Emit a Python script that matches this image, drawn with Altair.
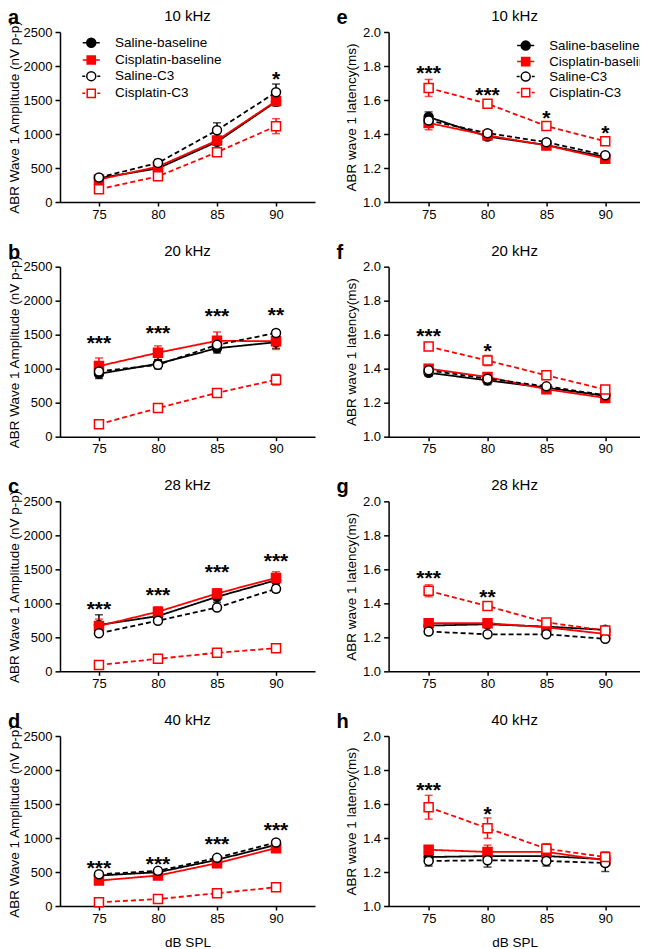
import altair as alt
import pandas as pd

FONT = "Liberation Sans, Arial, Helvetica, sans-serif"
RED = "#FF0000"

DB = [75, 80, 85, 90]
SERIES = ["Saline-baseline", "Cisplatin-baseline", "Saline-C3", "Cisplatin-C3"]

# ---- Amplitude (nV p-p): rows = series, cols = 75/80/85/90 dB SPL ----
amp10_mean = [[350, 495, 885, 1475], [330, 520, 905, 1485], [360, 575, 1055, 1615], [188, 377, 733, 1115]]
amp10_err = [[30, 70, 40, 60], [40, 50, 60, 60], [30, 50, 110, 120], [30, 40, 50, 110]]
amp10_stars = [(90, 1870, "*")]

amp20_mean = [[925, 1072, 1301, 1389], [1038, 1235, 1410, 1403], [960, 1057, 1350, 1525], [183, 420, 643, 838]]
amp20_err = [[70, 60, 70, 90], [120, 100, 130, 120], [50, 60, 60, 40], [20, 60, 30, 80]]
amp20_stars = [(75, 1437, "***"), (80, 1593, "***"), (85, 1837, "***"), (90, 1851, "**")]

amp28_mean = [[682, 813, 1096, 1340], [668, 877, 1145, 1374], [560, 745, 940, 1213], [93, 185, 273, 341]]
amp28_err = [[150, 50, 80, 80], [100, 70, 70, 90], [40, 40, 40, 50], [20, 20, 20, 30]]
amp28_stars = [(75, 989, "***"), (80, 1194, "***"), (85, 1520, "***"), (90, 1691, "***")]

amp40_mean = [[448, 497, 679, 900], [374, 448, 630, 851], [467, 517, 708, 935], [54, 103, 187, 276]]
amp40_err = [[30, 30, 40, 50], [30, 30, 40, 50], [20, 20, 30, 40], [15, 20, 20, 30]]
amp40_stars = [(75, 630, "***"), (80, 689, "***"), (85, 984, "***"), (90, 1186, "***")]

# ---- Latency (ms) ----
lat10_mean = [[1.50, 1.385, 1.335, 1.265], [1.465, 1.392, 1.333, 1.255], [1.48, 1.405, 1.352, 1.275], [1.671, 1.578, 1.447, 1.357]]
lat10_err = [[0.03, 0.02, 0.015, 0.012], [0.04, 0.02, 0.015, 0.012], [0.02, 0.015, 0.01, 0.01], [0.05, 0.012, 0.012, 0.012]]
lat10_stars = [(75, 1.788, "***"), (80, 1.657, "***"), (85, 1.52, "*"), (90, 1.43, "*")]

lat20_mean = [[1.376, 1.331, 1.288, 1.240], [1.400, 1.351, 1.279, 1.228], [1.39, 1.341, 1.296, 1.244], [1.530, 1.448, 1.361, 1.277]]
lat20_err = [[0.02, 0.025, 0.015, 0.01], [0.015, 0.015, 0.015, 0.01], [0.015, 0.015, 0.01, 0.01], [0.015, 0.03, 0.012, 0.012]]
lat20_stars = [(75, 1.62, "***"), (80, 1.532, "*")]

lat28_mean = [[1.269, 1.277, 1.263, 1.244], [1.283, 1.283, 1.259, 1.220], [1.234, 1.218, 1.218, 1.191], [1.474, 1.384, 1.288, 1.240]]
lat28_err = [[0.01, 0.01, 0.01, 0.01], [0.012, 0.012, 0.01, 0.01], [0.01, 0.01, 0.01, 0.01], [0.035, 0.015, 0.012, 0.01]]
lat28_stars = [(75, 1.575, "***"), (80, 1.464, "**")]

lat40_mean = [[1.288, 1.294, 1.294, 1.275], [1.331, 1.318, 1.318, 1.269], [1.265, 1.269, 1.265, 1.253], [1.581, 1.458, 1.337, 1.288]]
lat40_err = [[0.02, 0.03, 0.02, 0.04], [0.02, 0.04, 0.04, 0.03], [0.03, 0.04, 0.03, 0.05], [0.07, 0.06, 0.03, 0.03]]
lat40_stars = [(75, 1.708, "***"), (80, 1.567, "*")]

# legend symbol paths (unit box): line stubs + marker
P_CIRC = "M1,0A1,1,0,1,1,-1,0A1,1,0,1,1,1,0Z"
P_SQ = "M-0.9,-0.9L0.9,-0.9L0.9,0.9L-0.9,0.9Z"
SOLID = "M-1.9,0L-1,0M1,0L1.9,0"
DASH = "M-2,0L-1.35,0M1.35,0L2,0"
LEGEND_SHAPES = [SOLID + P_CIRC, SOLID + P_SQ, DASH + P_CIRC, DASH + P_SQ]

col_scale = alt.Scale(domain=SERIES, range=["black", RED, "black", RED])
fill_scale = alt.Scale(domain=SERIES, range=["black", RED, "white", "white"])
shape_scale = alt.Scale(domain=SERIES, range=["circle", "square", "circle", "square"])
lshape_scale = alt.Scale(domain=SERIES, range=LEGEND_SHAPES)
dash_scale = alt.Scale(domain=SERIES, range=[[1, 0], [1, 0], [5, 3], [5, 3]])


def make_panel(letter, freq, kind, means, errs, stars, legend_pos=None, bottom=False):
    rows = []
    for s, m, e in zip(SERIES, means, errs):
        for d, v, ee in zip(DB, m, e):
            rows.append({"series": s, "db": d, "value": v, "lo": v - ee, "hi": v + ee})
    df = pd.DataFrame(rows)
    sdf = pd.DataFrame({"db": [s[0] for s in stars], "y": [s[1] for s in stars],
                        "label": [s[2] for s in stars]})
    if kind == "amp":
        ydom, yvals, ytitle, fmt = [0, 2500], [0, 500, 1000, 1500, 2000, 2500], "ABR Wave 1 Amplitude (nV p-p)", "d"
        xdom, width, tpad = [71.7, 93.3], 255, 2
    else:
        ydom, yvals, ytitle, fmt = [1.0, 2.0], [1.0, 1.2, 1.4, 1.6, 1.8, 2.0], "ABR wave 1 latency(ms)", ".1f"
        xdom, width, tpad = [71.6, 93.0], 252, 4
    xscale = alt.Scale(domain=xdom, nice=False, zero=False)
    yscale = alt.Scale(domain=ydom, nice=False, zero=False)
    xaxis = alt.Axis(values=DB, format="d", title="dB SPL" if bottom else None)
    yaxis = alt.Axis(values=yvals, format=fmt, title=ytitle, titlePadding=tpad)
    xenc = alt.X("db:Q", scale=xscale, axis=xaxis)

    def Y(field):
        return alt.Y(field, type="quantitative", scale=yscale, axis=yaxis)

    color = alt.Color("series:N", scale=col_scale, legend=None)

    base = alt.Chart(df)
    lines = base.mark_line(strokeWidth=1.8).encode(
        x=xenc, y=Y("value"), color=color,
        strokeDash=alt.StrokeDash("series:N", scale=dash_scale, legend=None))
    rules = base.mark_rule(strokeWidth=1.5).encode(
        x=xenc, y=Y("lo"), y2="hi:Q", color=color)
    tlo = base.mark_tick(orient="horizontal", size=8, thickness=1.5).encode(
        x=xenc, y=Y("lo"), color=color)
    thi = base.mark_tick(orient="horizontal", size=8, thickness=1.5).encode(
        x=xenc, y=Y("hi"), color=color)

    points = base.mark_point(filled=True, size=81, strokeWidth=1.5, opacity=1).encode(
        x=xenc, y=Y("value"),
        shape=alt.Shape("series:N", scale=shape_scale, legend=None),
        fill=alt.Fill("series:N", scale=fill_scale, legend=None),
        stroke=alt.Stroke("series:N", scale=col_scale, legend=None))

    star_layer = alt.Chart(sdf).mark_text(fontSize=21, fontWeight="bold", baseline="alphabetic",
                                          dy=11.5, font=FONT, color="black").encode(
        x=xenc, y=Y("y"), text="label:N")

    lab = pd.DataFrame({"letter": [letter], "freq": [freq]})
    letter_layer = alt.Chart(lab).mark_text(
        fontSize=20, fontWeight="bold", align="left", baseline="alphabetic", font=FONT,
        color="black").encode(x=alt.value(-52), y=alt.value(-8), text="letter:N")
    freq_layer = alt.Chart(lab).mark_text(
        fontSize=15, align="center", baseline="alphabetic", font=FONT,
        color="black").encode(x=alt.value(width / 2), y=alt.value(-11), text="freq:N")

    layers = [lines, rules, tlo, thi, points, star_layer, letter_layer, freq_layer]
    if legend_pos is not None:
        lg = alt.Legend(orient="none", legendX=legend_pos[0], legendY=legend_pos[1], title=None,
                        symbolSize=81, symbolStrokeWidth=1.5, labelFontSize=legend_pos[3],
                        labelFont=FONT, labelColor="black", labelOffset=17,
                        rowPadding=legend_pos[2], padding=0)
        # legend-only layer: its points sit left of the x domain and are clipped away
        ldf = pd.DataFrame({"series": SERIES, "db": [xdom[0] - 20] * 4, "value": [ydom[0]] * 4})
        legend_layer = alt.Chart(ldf).mark_point(filled=True, size=81, strokeWidth=1.5,
                                                 opacity=1, clip=True).encode(
            x=xenc, y=Y("value"),
            shape=alt.Shape("series:N", scale=lshape_scale, legend=lg),
            fill=alt.Fill("series:N", scale=fill_scale, legend=lg),
            stroke=alt.Stroke("series:N", scale=col_scale, legend=lg))
        layers.append(legend_layer)
        lay = alt.layer(*layers).resolve_scale(shape="independent", fill="independent",
                                               stroke="independent")
    else:
        lay = alt.layer(*layers)

    return lay.properties(width=width, height=170)


pa = make_panel("a", "10 kHz", "amp", amp10_mean, amp10_err, amp10_stars, legend_pos=(24.5, 4, 1.2, 13.5))
pe = make_panel("e", "10 kHz", "lat", lat10_mean, lat10_err, lat10_stars, legend_pos=(130.5, 7, 0, 13.2))
pb = make_panel("b", "20 kHz", "amp", amp20_mean, amp20_err, amp20_stars)
pf = make_panel("f", "20 kHz", "lat", lat20_mean, lat20_err, lat20_stars)
pc = make_panel("c", "28 kHz", "amp", amp28_mean, amp28_err, amp28_stars)
pg = make_panel("g", "28 kHz", "lat", lat28_mean, lat28_err, lat28_stars)
pd_ = make_panel("d", "40 kHz", "amp", amp40_mean, amp40_err, amp40_stars, bottom=True)
ph = make_panel("h", "40 kHz", "lat", lat40_mean, lat40_err, lat40_stars, bottom=True)

chart = alt.concat(pa, pe, pb, pf, pc, pg, pd_, ph, columns=2, bounds="flush",
                   spacing={"row": 64.67, "column": 73.6}).properties(
    padding={"left": -1, "top": 0, "right": -15, "bottom": 0}, background="white"
).configure_view(stroke=None).configure_axis(
    domainColor="black", domainWidth=1.5, tickColor="black", tickWidth=1.5, tickSize=5,
    labelColor="black", labelFontSize=13, labelFont=FONT, titleFont=FONT, titleFontSize=13.5,
    titleFontWeight="normal", titleColor="black", grid=False, labelPadding=3
).configure_axisX(tickSize=4, labelPadding=2, titlePadding=10)

chart.save("out.html", embed_options={"renderer": "svg", "actions": False})
